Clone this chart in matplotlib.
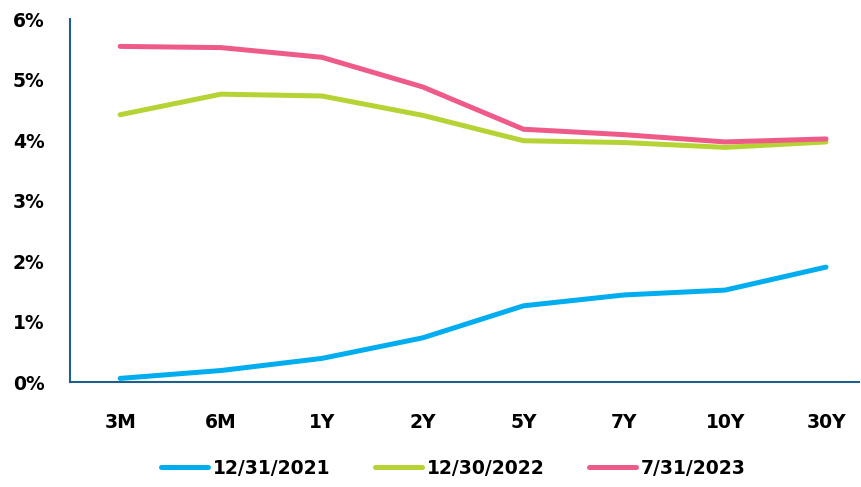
import matplotlib
matplotlib.use("Agg")
import matplotlib.pyplot as plt
import numpy as np

tenors = ['3M', '6M', '1Y', '2Y', '5Y', '7Y', '10Y', '30Y']
yc_2021 = [0.06, 0.19, 0.39, 0.73, 1.26, 1.44, 1.52, 1.90]
yc_2022 = [4.42, 4.76, 4.73, 4.41, 3.99, 3.96, 3.88, 3.97]
yc_2023 = [5.55, 5.53, 5.37, 4.88, 4.18, 4.09, 3.97, 4.02]
series_labels = ['12/31/2021', '12/30/2022', '7/31/2023']
colors = ['#00AEEF', '#B5D334', '#EF5B88']

plt.rcParams['font.family'] = ['DejaVu Sans']

fig = plt.figure(figsize=(8.61, 4.87), dpi=100)
ax = fig.add_axes([0.081, 0.2156, 0.917, 0.745])

x = np.arange(len(tenors))
for vals, lab, c in zip([yc_2021, yc_2022, yc_2023], series_labels, colors):
    ax.plot(x, vals, color=c, lw=3.6, label=lab, solid_capstyle='round')

ax.set_xlim(-0.5, 7.33)
ax.set_ylim(0, 6)
ax.set_yticks(range(7))
ax.set_yticklabels([f'{i}%' for i in range(7)])
ax.set_xticks(x)
ax.set_xticklabels(tenors)

for s in ['top', 'right']:
    ax.spines[s].set_visible(False)
for s in ['left', 'bottom']:
    ax.spines[s].set_color('#1f5f8b')
    ax.spines[s].set_linewidth(1.5)

ax.tick_params(axis='both', length=0, labelsize=13.5)
ax.tick_params(axis='y', pad=18)
ax.tick_params(axis='x', pad=22)
for t in ax.get_xticklabels() + ax.get_yticklabels():
    t.set_fontweight('bold')

leg = ax.legend(loc='upper center', bbox_to_anchor=(0.486, -0.165), ncol=3,
                frameon=False, handlelength=2.5, handletextpad=0.25,
                columnspacing=2.4, prop={'size': 13.5, 'weight': 'bold'})

fig.savefig('out.png', dpi=100)
